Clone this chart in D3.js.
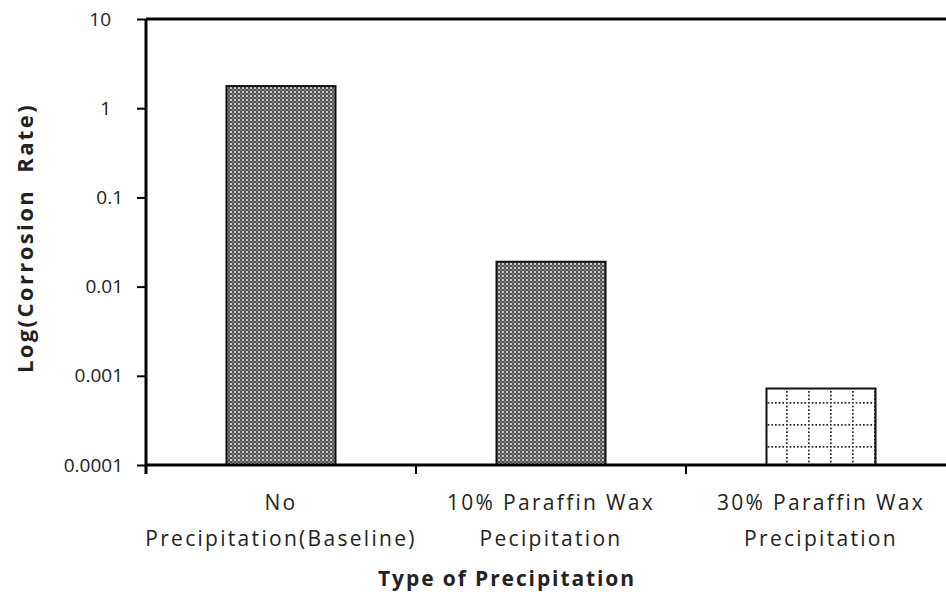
<!DOCTYPE html>
<html>
<head>
<meta charset="utf-8">
<script src="https://cdn.jsdelivr.net/npm/d3@7"></script>
<style>
  body { margin: 0; background: #fff; }
  text { font-family: "Open Sans", "Noto Sans", sans-serif; fill: #222; }
</style>
</head>
<body>
<div id="chart"></div>
<script>
// data
const categories = [
  ["No", "Precipitation(Baseline)"],
  ["10% Paraffin Wax", "Pecipitation"],
  ["30% Paraffin Wax", "Precipitation"]
];
const rates = [1.77, 0.019, 0.00072];
const patterns = ["dense", "dense", "grid"];
const yTicks = [0.0001, 0.001, 0.01, 0.1, 1, 10];
const yTickLabels = ["0.0001", "0.001", "0.01", "0.1", "1", "10"];

const W = 946, H = 595;
const margin = { top: 19, right: -10, bottom: 130, left: 146 };
const width = W - margin.left - margin.right,
  height = H - margin.top - margin.bottom;

const root = d3.select("#chart").append("svg")
  .attr("width", W).attr("height", H);

// fill patterns
const defs = root.append("defs");
const dense = defs.append("pattern")
  .attr("id", "dense").attr("patternUnits", "userSpaceOnUse")
  .attr("width", 4).attr("height", 4);
dense.append("rect").attr("width", 4).attr("height", 4).attr("fill", "#4e4e4e");
dense.append("rect").attr("x", 0).attr("y", 0).attr("width", 2).attr("height", 2).attr("fill", "#cfcfcf");
dense.append("rect").attr("x", 2).attr("y", 2).attr("width", 2).attr("height", 2).attr("fill", "#808080");

const grid = defs.append("pattern")
  .attr("id", "grid").attr("patternUnits", "userSpaceOnUse")
  .attr("width", 22).attr("height", 22)
  .attr("x", 772).attr("y", 405);
grid.append("rect").attr("width", 22).attr("height", 22).attr("fill", "#fff");
for (let i = 0; i < 22; i += 3.67) {
  grid.append("rect").attr("x", 0).attr("y", i).attr("width", 1.7).attr("height", 1.7).attr("fill", "#222");
  if (i > 0) grid.append("rect").attr("x", i).attr("y", 0).attr("width", 1.7).attr("height", 1.7).attr("fill", "#222");
}

const svg = root.append("g")
  .attr("transform", `translate(${margin.left},${margin.top})`);

const x = d3.scaleBand().domain(d3.range(categories.length)).range([0, width]).padding(0);
const y = d3.scaleLog().domain([0.0001, 10]).range([height, 0]);

// bars
const barW = 109;
svg.selectAll(".bar").data(rates).join("rect")
  .attr("class", "bar")
  .attr("x", (d, i) => x(i) + x.bandwidth() / 2 - barW / 2)
  .attr("y", d => y(d))
  .attr("width", barW)
  .attr("height", d => height - y(d))
  .attr("fill", (d, i) => `url(#${patterns[i]})`)
  .attr("stroke", "#111")
  .attr("stroke-width", 2);

// top border
svg.append("line")
  .attr("x1", 0).attr("x2", width).attr("y1", 0).attr("y2", 0)
  .attr("stroke", "#000").attr("stroke-width", 3);

// y axis
const yAxis = svg.append("g")
  .call(d3.axisLeft(y).tickValues(yTicks).tickFormat((d, i) => yTickLabels[i]).tickSize(9).tickPadding(14));
yAxis.select(".domain").attr("stroke-width", 3).attr("d", `M0,${height + 9}V0`);
yAxis.selectAll(".tick line").attr("stroke-width", 2);
yAxis.selectAll("text").attr("font-size", 19).attr("fill", "#222")
  .style("font-family", "'Open Sans', sans-serif")
  .attr("dx", (d, i) => yTickLabels[i].includes(".") ? 0 : -12);

// x axis
const xAxis = svg.append("g").attr("transform", `translate(0,${height})`);
xAxis.append("line").attr("x1", 0).attr("x2", width).attr("stroke", "#000").attr("stroke-width", 3);
xAxis.selectAll(".xt").data(d3.range(1, categories.length)).join("line")
  .attr("class", "xt")
  .attr("x1", d => x(d)).attr("x2", d => x(d))
  .attr("y1", 0).attr("y2", 9)
  .attr("stroke", "#000").attr("stroke-width", 2);

const labels = svg.selectAll(".xl").data(categories).join("text")
  .attr("class", "xl")
  .attr("text-anchor", "middle")
  .attr("font-size", 21)
  .attr("letter-spacing", 2.3)
  .attr("transform", (d, i) => `translate(${x(i) + x.bandwidth() / 2},${height + 45})`);
labels.selectAll("tspan").data(d => d).join("tspan")
  .attr("x", 0).attr("dy", (d, i) => i === 0 ? 0 : 36)
  .text(d => d);

// axis titles
root.append("text")
  .attr("x", 507).attr("y", 586)
  .attr("text-anchor", "middle")
  .attr("font-size", 21).attr("font-weight", "bold")
  .attr("letter-spacing", 1.9)
  .text("Type of Precipitation");

root.append("text")
  .attr("transform", "translate(33,238) rotate(-90)")
  .attr("text-anchor", "middle")
  .attr("font-size", 22).attr("font-weight", "bold")
  .attr("letter-spacing", 2.4)
  .style("white-space", "pre")
  .text("Log(Corrosion  Rate)");
</script>
</body>
</html>
